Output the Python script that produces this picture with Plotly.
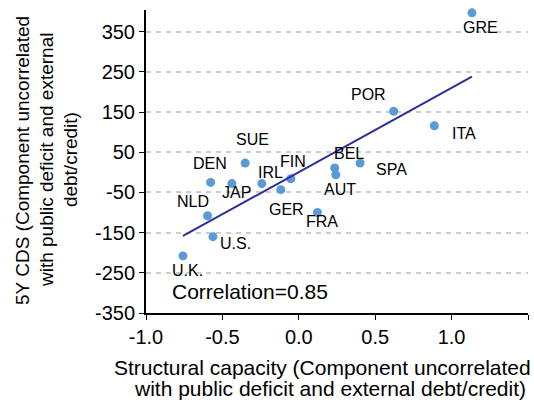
import numpy as np
import plotly.graph_objects as go

countries = ["GRE", "POR", "ITA", "SUE", "BEL", "SPA", "AUT", "DEN", "JAP", "IRL",
             "FIN", "GER", "FRA", "NLD", "U.S.", "U.K."]
structural_capacity = [1.133, 0.621, 0.887, -0.351, 0.235, 0.401, 0.242, -0.577, -0.438, -0.242,
                       -0.052, -0.118, 0.122, -0.597, -0.562, -0.758]
cds_5y = [397, 152, 116, 23, 11, 23, -6, -25, -28, -28,
          -16, -43, -100, -108, -160, -208]
x_ticks = [-1.0, -0.5, 0.0, 0.5, 1.0, 1.5]
x_tick_labels = ["-1.0", "-0.5", "0.0", "0.5", "1.0", "1.5"]
y_ticks = [350, 250, 150, 50, -50, -150, -250, -350]
y_tick_labels = ["350", "250", "150", "50", "-50", "-150", "-250", "-350"]
correlation_text = "Correlation=0.85"

# label offsets in pixels (dx right, dy down) -- styling only
label_offsets = {
    "GRE": (9, 15), "POR": (-25, -17), "ITA": (30, 8), "SUE": (7, -24),
    "BEL": (14, -14), "SPA": (31, 6), "AUT": (4, 15), "DEN": (-1, -19),
    "JAP": (5, 9), "IRL": (9, -11), "FIN": (2, -17), "GER": (6, 20),
    "FRA": (5, 9), "NLD": (-15, -14), "U.S.": (23, 7), "U.K.": (5, 15),
}

FONT = "Liberation Sans, Arial, sans-serif"

slope, intercept = np.polyfit(structural_capacity, cds_5y, 1)
x_line = np.array([min(structural_capacity), max(structural_capacity)])
y_line = slope * x_line + intercept

fig = go.Figure()
fig.add_trace(go.Scatter(x=structural_capacity, y=cds_5y, mode="markers",
                         marker=dict(color="#5b9bd5", size=9), showlegend=False,
                         cliponaxis=False))
fig.add_trace(go.Scatter(x=x_line, y=y_line, mode="lines",
                         line=dict(color="#2b2f99", width=2), showlegend=False))

for name, xv, yv in zip(countries, structural_capacity, cds_5y):
    dx, dy = label_offsets[name]
    fig.add_annotation(x=xv, y=yv, text=name, showarrow=False, xshift=dx, yshift=-dy,
                       xanchor="center", yanchor="middle",
                       font=dict(family=FONT, size=16, color="#000000"))

fig.add_annotation(xref="paper", yref="paper", x=0.063, y=0.07, text=correlation_text,
                   showarrow=False, xanchor="left", yanchor="middle",
                   font=dict(family=FONT, size=21, color="#000000"))

y_title_lines = ["5Y CDS (Component uncorrelated", "with public deficit and external", "debt/credit)"]
for txt, px in zip(y_title_lines, [-0.322, -0.259, -0.196]):
    fig.add_annotation(xref="paper", yref="paper", x=px, y=0.505, text=txt, textangle=-90,
                       showarrow=False, xanchor="center", yanchor="middle",
                       font=dict(family=FONT, size=19, color="#000000"))

x_title_lines = ["Structural capacity (Component uncorrelated", "with public deficit and external debt/credit)"]
for txt, px, py in zip(x_title_lines, [0.463, 0.482], [-0.18, -0.25]):
    fig.add_annotation(xref="paper", yref="paper", x=px, y=py, text=txt,
                       showarrow=False, xanchor="center", yanchor="middle",
                       font=dict(family=FONT, size=21, color="#000000"))

fig.update_layout(
    width=534, height=403,
    margin=dict(l=146, r=6, t=10, b=90),
    paper_bgcolor="white", plot_bgcolor="white",
    font=dict(family=FONT, color="#000000"),
    xaxis=dict(range=[-1.0, 1.5], tickvals=x_ticks, ticktext=x_tick_labels,
               showgrid=False, zeroline=False, showline=True, linecolor="#000000",
               linewidth=2, ticks="outside", ticklen=5, tickcolor="#000000",
               tickfont=dict(size=20, family=FONT, color="#000000")),
    yaxis=dict(range=[-350, 404], tickvals=y_ticks, ticktext=y_tick_labels, showgrid=True,
               gridcolor="#cccccc", gridwidth=1.5, griddash="5px,5px",
               zeroline=False, showline=True, linecolor="#000000", linewidth=2,
               ticks="outside", ticklen=5, tickcolor="#000000",
               tickfont=dict(size=20, family=FONT, color="#000000")),
)

fig.write_html("out.html")
